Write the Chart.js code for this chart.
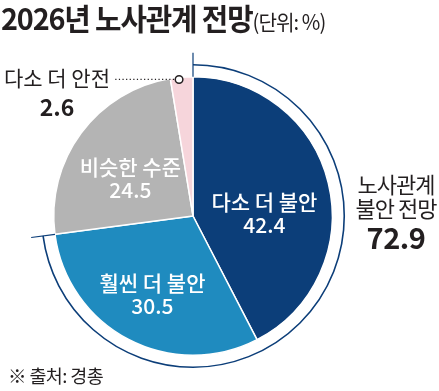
<!DOCTYPE html>
<html>
<head>
<meta charset="utf-8">
<script src="https://cdn.jsdelivr.net/npm/chart.js@4"></script>
<style>
  body { margin: 0; background: #fff; }
  #wrap { position: relative; width: 439px; height: 391px; overflow: hidden; font-family: "Noto Sans CJK KR", sans-serif; color: #231f20; }
  #wrap canvas { position: absolute; left: 0; top: 0; }
  .title { position: absolute; left: 1px; top: -5px; white-space: nowrap; transform: scaleX(0.96); transform-origin: left top; }
  .title b { font-size: 30px; font-weight: 700; letter-spacing: -1.2px; }
  .title span { font-size: 21px; font-weight: 400; letter-spacing: -1px; }
  .total { position: absolute; left: 346px; top: 171px; width: 100px; text-align: center; font-size: 22px; line-height: 24px; letter-spacing: -1px; }
  .total b { display: block; font-size: 29px; line-height: 35px; font-weight: 700; letter-spacing: -0.5px; }
  .src { position: absolute; left: 8px; top: 362px; font-size: 18.5px; letter-spacing: -0.6px; }
</style>
</head>
<body>
<div id="wrap">
  <canvas id="pie" width="439" height="391"></canvas>
  <div class="title"><b>2026년 노사관계 전망</b><span>(단위: %)</span></div>
  <div class="total">노사관계<br>불안 전망<b>72.9</b></div>
  <div class="src">※ 출처: 경총</div>
</div>
<script>
// 2026 labour-relations outlook (unit: %)
const categories = ['다소 더 불안', '훨씬 더 불안', '비슷한 수준', '다소 더 안전'];
const values = [42.4, 30.5, 24.5, 2.6];
const sliceColors = ['#0c3e79', '#1f8bbf', '#b4b4b4', '#f6d5db'];
const unstableCount = 2; // first two slices make up the outer "불안" ring

const NAVY = '#0c3e79';

// per-label nudges (px) on top of the mid-angle anchor
const labelFrac = [0.55, 0.63, 0.56];
const labelShift = [[-3, 15], [0, 0], [0, 8]];

const piePlugin = {
  id: 'pieDecor',
  afterDatasetsDraw(chart) {
    const ctx = chart.ctx;
    const arcs = chart.getDatasetMeta(0).data;
    const cx = arcs[0].x, cy = arcs[0].y, R = arcs[0].outerRadius;

    // outer ring around the "불안" slices
    const a0 = arcs[0].startAngle;
    const a1 = arcs[unstableCount - 1].endAngle;
    ctx.save();
    ctx.strokeStyle = NAVY;
    ctx.lineWidth = 1.6;
    ctx.beginPath();
    ctx.arc(cx, cy, R + 12, a0, a1);
    ctx.stroke();
    ctx.lineWidth = 1.2;
    [a0, a1].forEach(a => {
      ctx.beginPath();
      ctx.moveTo(cx + Math.cos(a) * R, cy + Math.sin(a) * R);
      ctx.lineTo(cx + Math.cos(a) * (R + 24), cy + Math.sin(a) * (R + 24));
      ctx.stroke();
    });

    // labels inside the big slices
    ctx.fillStyle = '#fff';
    ctx.textAlign = 'center';
    ctx.textBaseline = 'middle';
    ctx.font = '500 21px "Noto Sans CJK KR"';
    for (let i = 0; i < 3; i++) {
      const a = (arcs[i].startAngle + arcs[i].endAngle) / 2;
      const x = cx + Math.cos(a) * R * labelFrac[i] + labelShift[i][0];
      const y = cy + Math.sin(a) * R * labelFrac[i] + labelShift[i][1];
      ctx.fillText(categories[i], x, y - 11);
      ctx.fillText(values[i].toFixed(1), x, y + 12);
    }

    // small slice: leader line + outside label
    const last = arcs.length - 1;
    const am = (arcs[last].startAngle + arcs[last].endAngle) / 2 - 0.02;
    const px = cx + Math.cos(am) * (R - 2);
    const py = cy + Math.sin(am) * (R - 2);
    ctx.strokeStyle = '#231f20';
    ctx.lineWidth = 1.2;
    ctx.setLineDash([1.2, 2.4]);
    ctx.beginPath();
    ctx.moveTo(px - 5, py);
    ctx.lineTo(113, py);
    ctx.stroke();
    ctx.setLineDash([]);
    ctx.fillStyle = '#fff';
    ctx.lineWidth = 1.5;
    ctx.beginPath();
    ctx.arc(px, py, 3.8, 0, Math.PI * 2);
    ctx.fill();
    ctx.stroke();

    ctx.fillStyle = '#231f20';
    ctx.textAlign = 'left';
    ctx.font = '400 21px "Noto Sans CJK KR"';
    ctx.fillText(categories[last], 4, py - 1);
    ctx.textAlign = 'center';
    ctx.font = '700 23px "Noto Sans CJK KR"';
    ctx.fillText(values[last].toFixed(1), 57, py + 28);
    ctx.restore();
  }
};

new Chart(document.getElementById('pie'), {
  type: 'pie',
  data: {
    labels: categories,
    datasets: [{
      data: values,
      backgroundColor: sliceColors,
      borderColor: '#fff',
      borderWidth: 1.5,
      hoverOffset: 0
    }]
  },
  options: {
    responsive: false,
    animation: false,
    layout: { padding: { left: 53, top: 76, right: 106, bottom: 35 } },
    plugins: {
      legend: { display: false },
      tooltip: { enabled: false }
    }
  },
  plugins: [piePlugin]
});
</script>
</body>
</html>
